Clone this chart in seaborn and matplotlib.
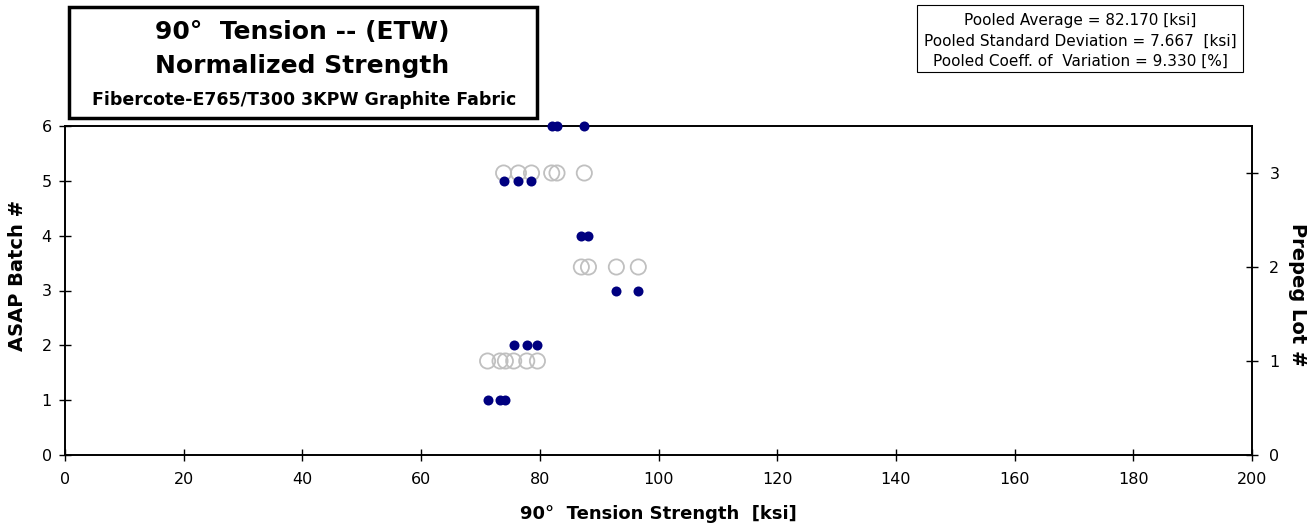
import numpy as np
import pandas as pd
import matplotlib
matplotlib.use("Agg")
import matplotlib.pyplot as plt
import seaborn as sns

# strength values, by ASAP batch
batch_1 = [71.2, 73.3, 74.2]
batch_2 = [75.6, 77.8, 79.6]
batch_3 = [92.9, 96.6]
batch_4 = [87.0, 88.2]
batch_5 = [73.9, 76.4, 78.6]
batch_6 = [82.0, 82.9, 87.5]

# prepreg lots group batches 1+2, 3+4, 5+6
lot_1 = batch_1 + batch_2
lot_2 = batch_4 + batch_3
lot_3 = batch_5 + batch_6

batches = pd.DataFrame({
    "strength": batch_1 + batch_2 + batch_3 + batch_4 + batch_5 + batch_6,
    "batch": [1] * len(batch_1) + [2] * len(batch_2) + [3] * len(batch_3)
             + [4] * len(batch_4) + [5] * len(batch_5) + [6] * len(batch_6),
})
lots = pd.DataFrame({
    "strength": lot_1 + lot_2 + lot_3,
    "lot": [1] * len(lot_1) + [2] * len(lot_2) + [3] * len(lot_3),
})

pooled_avg = 82.170
pooled_sd = 7.667
pooled_cv = 9.330

sns.set_style("white")
plt.rcParams['font.family'] = ['DejaVu Sans']
plt.rcParams['text.color'] = 'black'

W, H = 1312, 532
fig = plt.figure(figsize=(W / 100, H / 100), dpi=100)
ax = fig.add_axes([65 / W, 1 - 455 / H, (1252 - 65) / W, (455 - 126) / H])
ax2 = ax.twinx()

sns.scatterplot(data=lots, x="strength", y="lot", ax=ax2, s=120,
                facecolor="none", edgecolor="#c0c0c0", linewidth=1.3, zorder=2)
sns.scatterplot(data=batches, x="strength", y="batch", ax=ax, s=52,
                color="#000080", edgecolor="#000080", linewidth=0, zorder=3,
                clip_on=False)
ax.set_zorder(ax2.get_zorder() + 1)
ax.patch.set_visible(False)

ax.set_xlim(0, 200)
ax.set_ylim(0, 6)
ax2.set_ylim(0, 3.5)
ax.set_xticks(np.arange(0, 201, 20))
ax.set_yticks(range(0, 7))
ax2.set_yticks(range(0, 4))
ax.set_xlabel("")
ax.set_ylabel("")
ax2.set_ylabel("")

for a in (ax, ax2):
    for s in a.spines.values():
        s.set_color("black")
        s.set_linewidth(1.2)
    a.tick_params(direction="inout", length=9, width=1, colors="black", labelsize=11.5)
ax.tick_params(axis="both", left=True, bottom=True)
ax.tick_params(axis="x", pad=8)
ax.tick_params(axis="y", pad=5)
ax2.tick_params(axis="y", right=True, pad=8)

fig.text(658 / W, 1 - 514 / H, "90°  Tension Strength  [ksi]", ha="center", va="center",
         fontsize=13, fontweight="bold")
fig.text(18 / W, 1 - 275 / H, "ASAP Batch #", ha="center", va="center",
         fontsize=14, fontweight="bold", rotation=90)
fig.text(1298 / W, 1 - 295 / H, "Prepeg Lot #", ha="center", va="center",
         fontsize=14, fontweight="bold", rotation=270)

# title box
fig.patches.append(plt.Rectangle((69 / W, 1 - 118 / H), 468 / W, 111 / H,
                                 transform=fig.transFigure, fill=False,
                                 edgecolor="black", linewidth=2.5))
fig.text(302 / W, 1 - 32 / H, "90°  Tension -- (ETW)", ha="center", va="center",
         fontsize=18, fontweight="bold")
fig.text(302 / W, 1 - 66 / H, "Normalized Strength", ha="center", va="center",
         fontsize=18, fontweight="bold")
fig.text(304 / W, 1 - 100 / H, "Fibercote-E765/T300 3KPW Graphite Fabric",
         ha="center", va="center", fontsize=12.5, fontweight="bold")

# stats box
fig.patches.append(plt.Rectangle((917 / W, 1 - 72 / H), 326 / W, 67 / H,
                                 transform=fig.transFigure, fill=False,
                                 edgecolor="black", linewidth=0.8))
fig.text(1080 / W, 1 - 21 / H, "Pooled Average = %.3f [ksi]" % pooled_avg,
         ha="center", va="center", fontsize=11)
fig.text(1080 / W, 1 - 41 / H, "Pooled Standard Deviation = %.3f  [ksi]" % pooled_sd,
         ha="center", va="center", fontsize=11)
fig.text(1080 / W, 1 - 61 / H, "Pooled Coeff. of  Variation = %.3f [%%]" % pooled_cv,
         ha="center", va="center", fontsize=11)

fig.savefig("out.png", dpi=100)
